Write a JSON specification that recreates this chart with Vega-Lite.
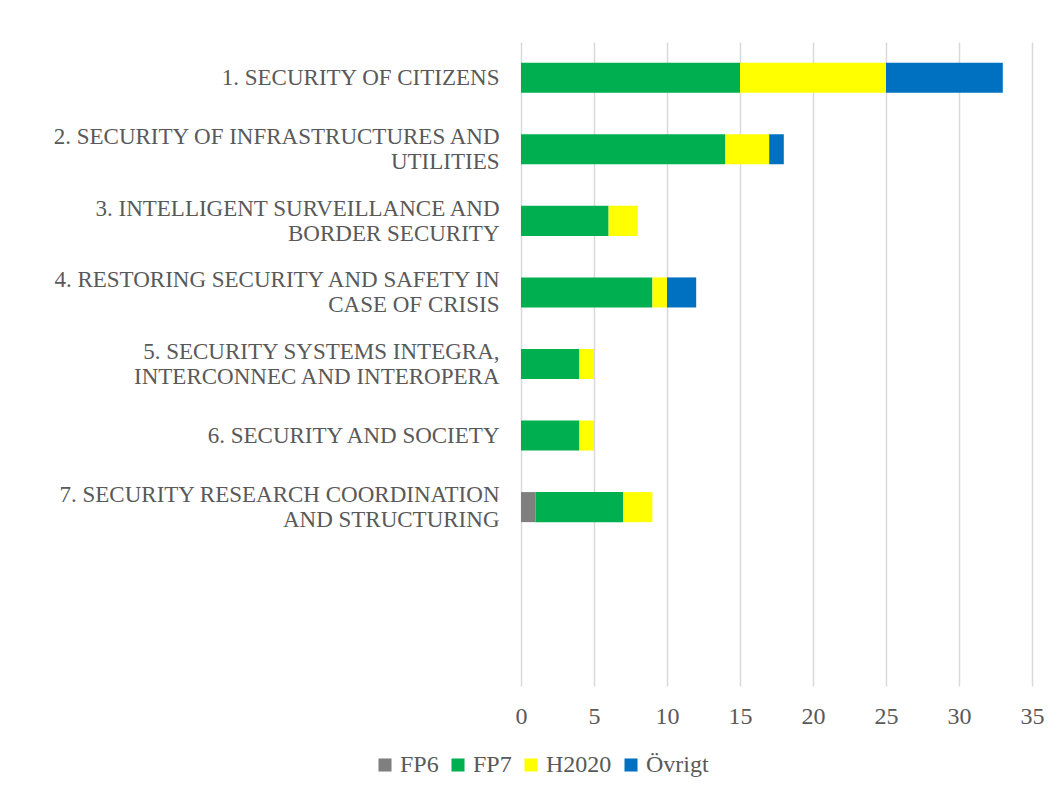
{
  "$schema": "https://vega.github.io/schema/vega-lite/v6.json",
  "width": 511,
  "height": 644,
  "padding": {"left": 50, "top": 42, "right": 10, "bottom": 10},
  "background": "#ffffff",
  "config": {
    "font": "Liberation Serif",
    "view": {"stroke": null},
    "axis": {"labelFont": "Liberation Serif", "labelColor": "#595959", "labelFontSize": 24},
    "legend": {"labelFont": "Liberation Serif", "labelColor": "#595959", "labelFontSize": 24}
  },
  "data": {
    "values": [
      {"cat": "1. SECURITY OF CITIZENS", "program": "FP7", "n": 15},
      {"cat": "1. SECURITY OF CITIZENS", "program": "H2020", "n": 10},
      {"cat": "1. SECURITY OF CITIZENS", "program": "Övrigt", "n": 8},
      {"cat": "2. SECURITY OF INFRASTRUCTURES AND|UTILITIES", "program": "FP7", "n": 14},
      {"cat": "2. SECURITY OF INFRASTRUCTURES AND|UTILITIES", "program": "H2020", "n": 3},
      {"cat": "2. SECURITY OF INFRASTRUCTURES AND|UTILITIES", "program": "Övrigt", "n": 1},
      {"cat": "3. INTELLIGENT SURVEILLANCE AND|BORDER SECURITY", "program": "FP7", "n": 6},
      {"cat": "3. INTELLIGENT SURVEILLANCE AND|BORDER SECURITY", "program": "H2020", "n": 2},
      {"cat": "4. RESTORING SECURITY AND SAFETY IN|CASE OF CRISIS", "program": "FP7", "n": 9},
      {"cat": "4. RESTORING SECURITY AND SAFETY IN|CASE OF CRISIS", "program": "H2020", "n": 1},
      {"cat": "4. RESTORING SECURITY AND SAFETY IN|CASE OF CRISIS", "program": "Övrigt", "n": 2},
      {"cat": "5. SECURITY SYSTEMS INTEGRA,|INTERCONNEC AND INTEROPERA", "program": "FP7", "n": 4},
      {"cat": "5. SECURITY SYSTEMS INTEGRA,|INTERCONNEC AND INTEROPERA", "program": "H2020", "n": 1},
      {"cat": "6. SECURITY AND SOCIETY", "program": "FP7", "n": 4},
      {"cat": "6. SECURITY AND SOCIETY", "program": "H2020", "n": 1},
      {"cat": "7.  SECURITY RESEARCH COORDINATION|AND STRUCTURING", "program": "FP6", "n": 1},
      {"cat": "7.  SECURITY RESEARCH COORDINATION|AND STRUCTURING", "program": "FP7", "n": 6},
      {"cat": "7.  SECURITY RESEARCH COORDINATION|AND STRUCTURING", "program": "H2020", "n": 2}
    ]
  },
  "mark": {"type": "bar"},
  "encoding": {
    "y": {
      "field": "cat",
      "type": "nominal",
      "title": null,
      "scale": {
        "domain": [
          "1. SECURITY OF CITIZENS",
          "2. SECURITY OF INFRASTRUCTURES AND|UTILITIES",
          "3. INTELLIGENT SURVEILLANCE AND|BORDER SECURITY",
          "4. RESTORING SECURITY AND SAFETY IN|CASE OF CRISIS",
          "5. SECURITY SYSTEMS INTEGRA,|INTERCONNEC AND INTEROPERA",
          "6. SECURITY AND SOCIETY",
          "7.  SECURITY RESEARCH COORDINATION|AND STRUCTURING",
          "_8",
          "_9"
        ],
        "paddingInner": 0.58,
        "paddingOuter": 0.29
      },
      "axis": {
        "domain": false,
        "ticks": false,
        "labelFontSize": 23,
        "labelPadding": 22,
        "labelLimit": 600,
        "labelLineHeight": 25,
        "labelOffset": {"condition": {"test": "indexof(datum.value, '|') >= 0", "value": -12}, "value": 0},
        "labelExpr": "indexof(datum.label, '_') == 0 ? '' : split(datum.label, '|')"
      }
    },
    "x": {
      "field": "n",
      "type": "quantitative",
      "aggregate": "sum",
      "stack": "zero",
      "title": null,
      "scale": {"domain": [0, 35], "nice": false},
      "axis": {
        "values": [0, 5, 10, 15, 20, 25, 30, 35],
        "domain": false,
        "ticks": false,
        "grid": true,
        "gridColor": "#d9d9d9",
        "gridWidth": 1.5,
        "labelFlush": false,
        "labelPadding": 18
      }
    },
    "color": {
      "field": "program",
      "type": "nominal",
      "title": null,
      "scale": {
        "domain": ["FP6", "FP7", "H2020", "Övrigt"],
        "range": ["#7f7f7f", "#00b050", "#ffff00", "#0070c0"]
      },
      "legend": {
        "orient": "none",
        "direction": "horizontal",
        "legendX": -148,
        "legendY": 711,
        "symbolType": "square",
        "symbolSize": 170,
        "symbolStrokeWidth": 0,
        "labelOffset": 3,
        "columnPadding": 7
      }
    }
  }
}
